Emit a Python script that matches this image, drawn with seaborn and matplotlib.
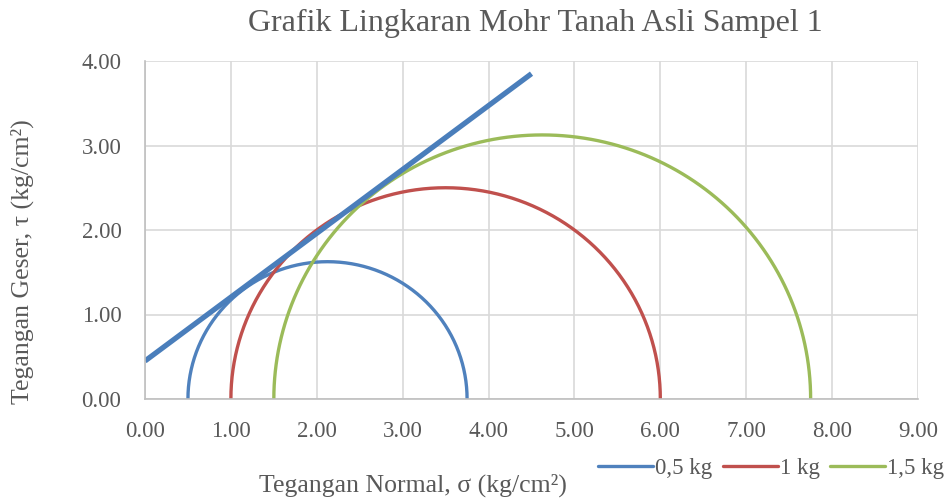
import numpy as np
import pandas as pd
import matplotlib
matplotlib.use("Agg")
import matplotlib.pyplot as plt
import seaborn as sns

# Mohr circle test data (kg/cm2)
loads = ["0,5 kg", "1 kg", "1,5 kg"]
sigma3 = [0.50, 1.00, 1.50]
sigma1 = [3.75, 6.00, 7.75]
colors = ["#4F81BD", "#C0504D", "#9BBB59"]

# Failure envelope end points
envelope_x = [0.00, 4.50]
envelope_y = [0.45, 3.85]

sns.set_theme(style="whitegrid")
plt.rcParams["font.family"] = ["Liberation Serif", "DejaVu Serif"]
text_color = "#595959"

fig = plt.figure(figsize=(9.53, 4.99), dpi=100)
ax = fig.add_axes([145 / 953, 1 - 399 / 499, (918 - 145) / 953, (399 - 61) / 499])

frames = []
theta = np.linspace(np.pi, 0, 361)
for name, s3, s1 in zip(loads, sigma3, sigma1):
    c = (s1 + s3) / 2
    r = (s1 - s3) / 2
    frames.append(pd.DataFrame({"sigma": c + r * np.cos(theta),
                                "tau": r * np.sin(theta),
                                "load": name}))
circles = pd.concat(frames, ignore_index=True)

sns.lineplot(data=circles, x="sigma", y="tau", hue="load", palette=colors,
             sort=False, estimator=None, units="load", linewidth=2.4, ax=ax,
             legend=True)
sns.lineplot(x=envelope_x, y=envelope_y, color="#4A7EBB", linewidth=3.8,
             ax=ax, legend=False, solid_capstyle="butt")

ticks_x = np.arange(0, 9.01, 1)
ticks_y = np.arange(0, 4.01, 1)
ax.set_xlim(0, 9)
ax.set_ylim(0, 4)
ax.set_xticks(ticks_x)
ax.set_yticks(ticks_y)
ax.set_xticklabels([f"{v:.2f}" for v in ticks_x])
ax.set_yticklabels([f"{v:.2f}" for v in ticks_y])
ax.tick_params(axis="both", labelsize=16.5, colors=text_color, length=0)
ax.tick_params(axis="x", pad=16)
ax.tick_params(axis="y", pad=17)
ax.grid(True, color="#D9D9D9", linewidth=1.2)
for side, sp in ax.spines.items():
    sp.set_visible(side in ("left", "bottom"))
    sp.set_color("#BFBFBF")
    sp.set_linewidth(1.2)

ax.set_xlabel("")
ax.set_ylabel("")
fig.text(413 / 953, 1 - 485 / 499, "Tegangan Normal, σ (kg/cm²)",
         ha="center", va="center", fontsize=18.5, color=text_color)
fig.text(22 / 953, 1 - 262 / 499, "Tegangan Geser, τ (kg/cm²)",
         ha="center", va="center", rotation=90, fontsize=18.5, color=text_color)
fig.text(535 / 953, 1 - 23 / 499, "Grafik Lingkaran Mohr Tanah Asli Sampel 1",
         ha="center", va="center", fontsize=23, color=text_color)

handles, labels = ax.get_legend_handles_labels()
ax.legend(handles, labels, loc="center", bbox_to_anchor=(771 / 953, 1 - 468 / 499),
          bbox_transform=fig.transFigure, ncol=3, frameon=False, fontsize=16.5,
          handlelength=2.4, handletextpad=0.08, columnspacing=0.45,
          labelcolor=text_color, borderpad=0)

fig.savefig("out.png", dpi=100)
